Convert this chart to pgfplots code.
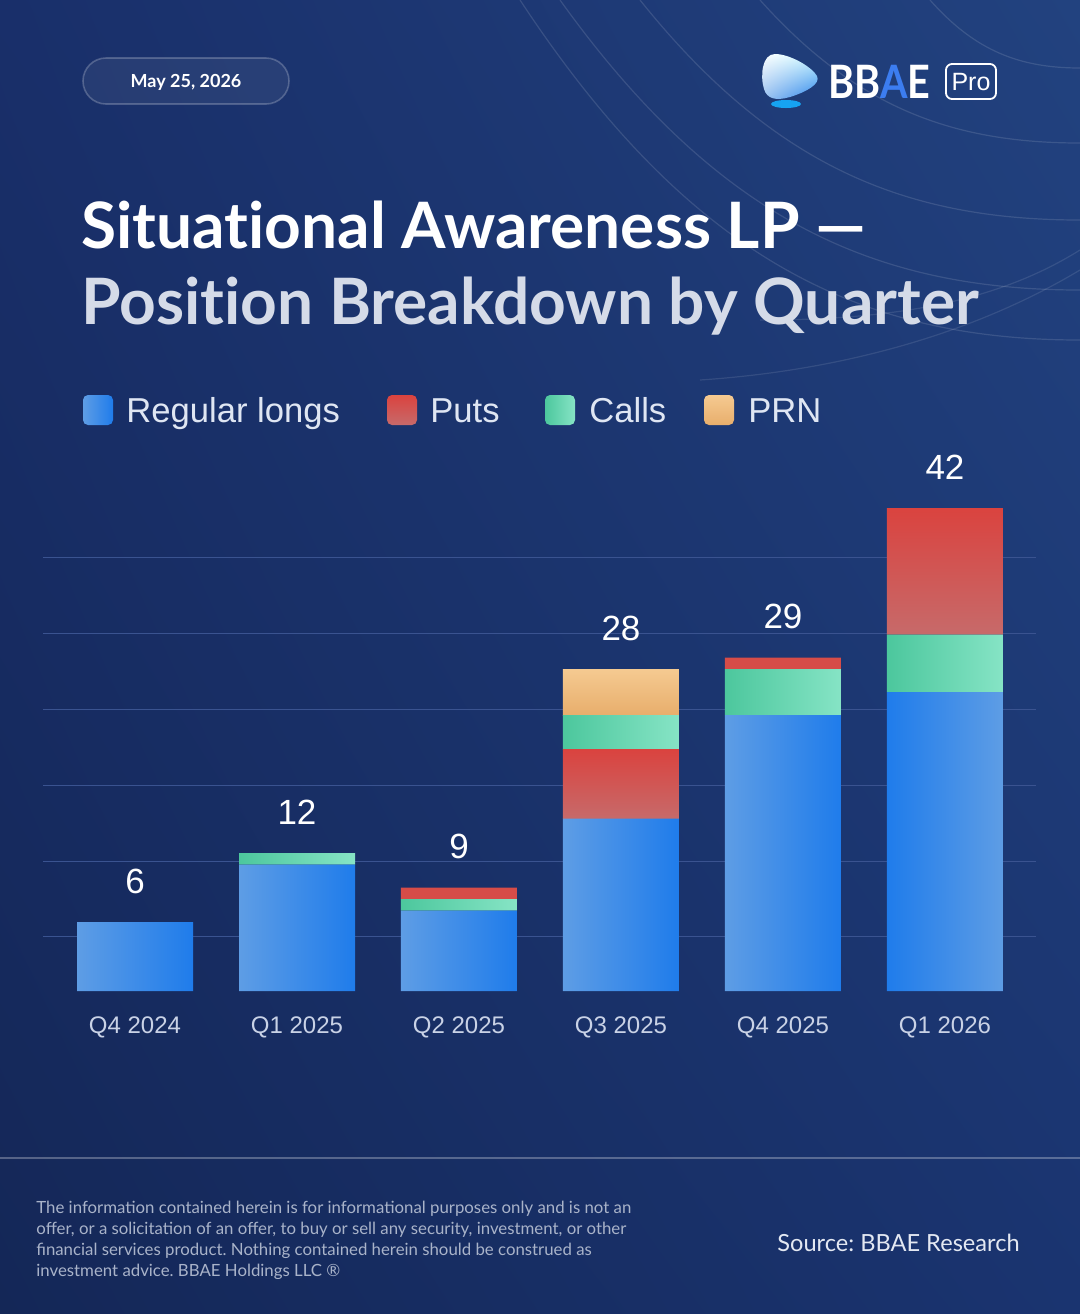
\documentclass[border=0pt]{standalone}
\usepackage{fontspec}
\setmainfont{Lato}
\newfontfamily\titlefont{Lato}[Ligatures=NoCommon]
\newfontfamily\sfpro{Liberation Sans}
\usepackage{pgfplots}
\usetikzlibrary{shadings}
\pgfplotsset{compat=1.18}
\frenchspacing
\definecolor{bgUL}{HTML}{192F6A}
\definecolor{bgUR}{HTML}{22427F}
\definecolor{bgLL}{HTML}{142757}
\definecolor{bgLR}{HTML}{1A3470}
\definecolor{gridc}{HTML}{3A5390}
\definecolor{tickc}{HTML}{C9D2E6}
\definecolor{legc}{HTML}{DFE6F3}
\definecolor{titleB}{HTML}{D5DBE8}
\definecolor{discc}{HTML}{A9B3C9}
\definecolor{srcc}{HTML}{E3E8F2}
\definecolor{blueA}{HTML}{5E9DE5}
\definecolor{blueB}{HTML}{1F7CEB}
\definecolor{redA}{HTML}{DA433F}
\definecolor{redB}{HTML}{C76A6A}
\definecolor{redM}{HTML}{D64C48}
\definecolor{grnA}{HTML}{4CC79D}
\definecolor{grnB}{HTML}{86E4C5}
\definecolor{orgA}{HTML}{F5CA91}
\definecolor{orgB}{HTML}{E8AE6C}
\definecolor{logoA}{HTML}{3C7DF0}
% per-bar horizontal gradients (bars span the middle 25bp..75bp of each shading)
\pgfdeclarehorizontalshading{bluebars}{100bp}{color(0bp)=(blueA); color(25bp)=(blueA); color(31.263bp)=(blueB); color(33.747bp)=(blueA); color(40.010bp)=(blueB); color(42.495bp)=(blueA); color(48.758bp)=(blueB); color(51.242bp)=(blueA); color(57.505bp)=(blueB); color(59.990bp)=(blueA); color(66.253bp)=(blueB); color(68.737bp)=(blueB); color(75bp)=(blueA); color(100bp)=(blueA)}
\pgfdeclarehorizontalshading{callbars}{100bp}{color(0bp)=(grnA); color(25bp)=(grnA); color(32.592bp)=(grnB); color(35.602bp)=(grnA); color(43.194bp)=(grnB); color(46.204bp)=(grnA); color(53.796bp)=(grnB); color(56.806bp)=(grnA); color(64.398bp)=(grnB); color(67.408bp)=(grnA); color(75bp)=(grnB); color(100bp)=(grnB)}
\pgfdeclareverticalshading{puthi}{100bp}{color(0bp)=(redM); color(57bp)=(redM); color(58.82bp)=(redB); color(75bp)=(redA); color(100bp)=(redA)}
\begin{document}
\begin{tikzpicture}
\begin{scope}[x=0.5pt,y=-0.5pt]
\useasboundingbox (0,0) rectangle (1080,1314);
\shade[upper left=bgUL, upper right=bgUR, lower left=bgLL, lower right=bgLR] (0,0) rectangle (1080,1314);
% decorative arcs
\begin{scope}
\clip (0,0) rectangle (1080,1314);
\foreach \xs/\ye in {930/68, 760/143, 640/220, 560/290, 520/340}{
  \draw[white, opacity=0.12, line width=0.6pt] (\xs,0) .. controls ({\xs+0.3*(1080-\xs)},{0.75*\ye}) and ({\xs+0.6*(1080-\xs)},{\ye}) .. (1080,\ye);
}
\draw[white, opacity=0.10, line width=0.6pt] (700,380) .. controls (850,370) and (980,330) .. (1080,270);
\draw[white, opacity=0.10, line width=0.6pt] (760,320) .. controls (900,320) and (1000,300) .. (1080,250);
\end{scope}
% date pill
\draw[rounded corners=11.5pt, fill=white, fill opacity=0.06, draw=white, draw opacity=0.22, line width=0.8pt] (83,58) rectangle (289,104);
\node[anchor=base, inner sep=0pt, text=white, font=\bfseries\fontsize{9}{10}\selectfont] at (186,87) {May 25, 2026};
% logo
\shade[upper left=white, upper right=blue!10!cyan!20!white, lower left=blueA!60!white, lower right=blueB]
 (775,54) .. controls (790,54) and (812,67) .. (817,76) .. controls (821,84) and (806,92) .. (790,97)
 .. controls (776,101) and (767,99) .. (764,89) .. controls (760,76) and (762,54) .. (775,54) -- cycle;
\fill[blueB!70!cyan] (786,104) ellipse [x radius=15, y radius=4];
\node[anchor=base west, inner sep=0pt, text=white, font=\bfseries\fontsize{23}{26}\selectfont] at (828,98) {\scalebox{0.86}[1]{BB\textcolor{logoA}{A}E}};
\draw[white, line width=0.9pt, rounded corners=3pt] (946,64) rectangle (996,99);
\node[anchor=base, inner sep=0pt, text=white, font=\sfpro\fontsize{12.5}{14}\selectfont] at (971,90) {Pro};
% title
\node[anchor=base west, inner sep=0pt, text=white, font=\titlefont\bfseries\fontsize{32}{38}\selectfont] at (81,248) {Situational Awareness LP —};
\node[anchor=base west, inner sep=0pt, text=titleB, font=\titlefont\bfseries\fontsize{32}{38}\selectfont] at (81,324) {Position Breakdown by Quarter};
% legend
\begin{scope}[every node/.style={anchor=base west, inner sep=0pt, text=legc, font=\sfpro\fontsize{17.3}{20}\selectfont}]
\shade[left color=blueA, right color=blueB, rounded corners=2.5pt] (83,395) rectangle (113,425);
\node at (126,422) {Regular longs};
\shade[top color=redA, bottom color=redB, rounded corners=2.5pt] (387,395) rectangle (417,425);
\node at (430,422) {Puts};
\shade[left color=grnA, right color=grnB, rounded corners=2.5pt] (545,395) rectangle (575,425);
\node at (589,422) {Calls};
\shade[top color=orgA, bottom color=orgB, rounded corners=2.5pt] (704,395) rectangle (734,425);
\node at (748,422) {PRN};
\end{scope}
% footer
\draw[white, opacity=0.28, line width=0.7pt] (0,1158) -- (1080,1158);
\begin{scope}[every node/.style={anchor=base west, inner sep=0pt, text=discc, font=\fontsize{8.4}{10.5}\selectfont}]
\node at (36,1213) {The information contained herein is for informational purposes only and is not an};
\node at (36,1234) {offer, or a solicitation of an offer, to buy or sell any security, investment, or other};
\node at (36,1255) {financial services product. Nothing contained herein should be construed as};
\node at (36,1276) {investment advice. BBAE Holdings LLC ®};
\end{scope}
\node[anchor=base west, inner sep=0pt, text=srcc, font=\fontsize{11.8}{14}\selectfont] at (777,1251) {Source: BBAE Research};
\end{scope}
% chart
\begin{axis}[
  at={(21.5pt,-495.5pt)}, anchor=south west,
  scale only axis, width=496.5pt, height=258.75pt,
  xmin=-0.568, xmax=5.562, ymin=0, ymax=45,
  ybar stacked, bar width=58pt,
  axis line style={draw=none}, major tick style={draw=none}, major tick length=0pt,
  ytick={4.7,11.3,17.9,24.5,31.1,37.7}, yticklabels={,,,,,},
  ymajorgrids, grid style={color=gridc, line width=0.5pt},
  xtick={0,1,2,3,4,5},
  xticklabels={Q4 2024,Q1 2025,Q2 2025,Q3 2025,Q4 2025,Q1 2026},
  xticklabel style={font=\sfpro\fontsize{12}{14}\selectfont, text=tickc, anchor=base, yshift=-21pt, inner sep=0pt},
]
% Regular longs
\addplot[draw=none, shade, shading=bluebars, shading angle=0]
  coordinates {(0,6) (1,11) (2,7) (3,15) (4,24) (5,26)};
% Puts (below calls in Q3 2025)
\addplot[draw=none, top color=redA, bottom color=redB]
  coordinates {(0,0) (1,0) (2,0) (3,6) (4,0) (5,0)};
% Calls
\addplot[draw=none, shade, shading=callbars, shading angle=0]
  coordinates {(0,0) (1,1) (2,1) (3,3) (4,4) (5,5)};
% Puts (above calls)
\addplot[draw=none, shade, shading=puthi, shading angle=0]
  coordinates {(0,0) (1,0) (2,1) (3,0) (4,1) (5,11)};
% PRN
\addplot[draw=none, top color=orgA, bottom color=orgB]
  coordinates {(0,0) (1,0) (2,0) (3,4) (4,0) (5,0)};
\end{axis}
% totals
\begin{axis}[
  at={(21.5pt,-495.5pt)}, anchor=south west,
  scale only axis, width=496.5pt, height=258.75pt,
  xmin=-0.568, xmax=5.562, ymin=0, ymax=45, hide axis,
]
\addplot[only marks, mark=none, nodes near coords, point meta=explicit symbolic,
  every node near coord/.append style={font=\sfpro\fontsize{17.5}{20}\selectfont, text=white, anchor=south, inner sep=0pt, yshift=14pt}]
  coordinates {(0,6) [6] (1,12) [12] (2,9) [9] (3,28) [28] (4,29) [29] (5,42) [42]};
\end{axis}
\pgfresetboundingbox
\path[use as bounding box] (0pt,0pt) rectangle (540pt,-657pt);
\end{tikzpicture}
\end{document}
